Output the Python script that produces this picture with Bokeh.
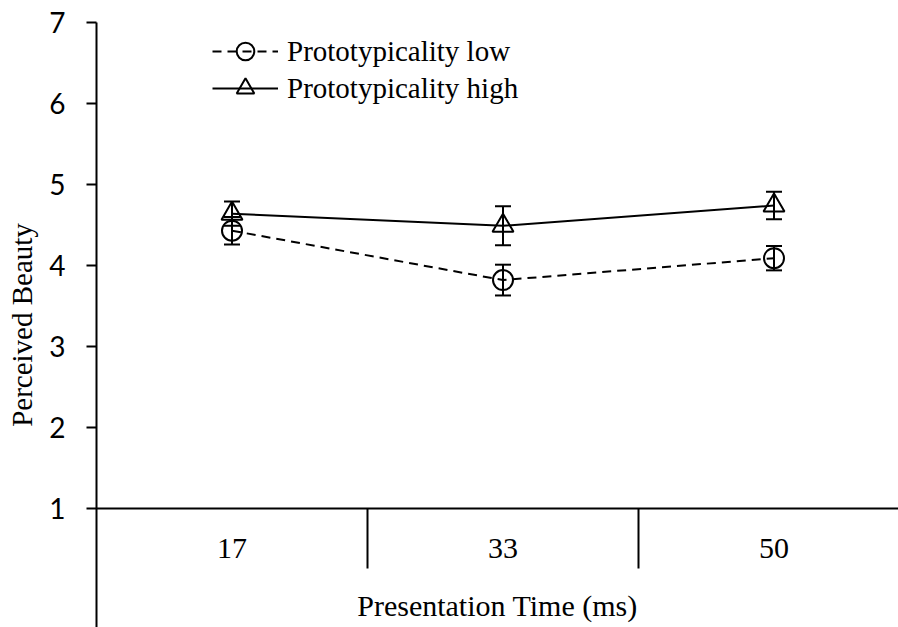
from bokeh.plotting import figure
from bokeh.models import (Range1d, LinearAxis, FixedTicker, Whisker, TeeHead,
                          ColumnDataSource, Legend, LegendItem)
from bokeh.embed import file_html
from bokeh.resources import INLINE

# ---- data ----
times = ["17", "33", "50"]
low_mean = [4.43, 3.82, 4.09]
low_err = [0.17, 0.19, 0.15]
high_mean = [4.64, 4.49, 4.74]
high_err = [0.15, 0.24, 0.17]
y_ticks = [1, 2, 3, 4, 5, 6, 7]
x_label = "Presentation Time (ms)"
y_label = "Perceived Beauty"
series_labels = ["Prototypicality low", "Prototypicality high"]

# category centres / boundaries on a linear scale
xpos = [i + 0.5 for i in range(len(times))]
bounds = [float(i) for i in range(1, len(times))]

W, H = 898, 627
left, top = 96, 22
frame_w = W - left
frame_h = H - top
px_per_unit_y = 81
px_per_cat = 271

p = figure(width=W, height=H, output_backend="svg", toolbar_location=None,
           x_range=Range1d(0, frame_w / px_per_cat),
           y_range=Range1d(7 - frame_h / px_per_unit_y, 7),
           x_axis_type=None, y_axis_type=None,
           min_border_left=left, min_border_top=top,
           min_border_right=0, min_border_bottom=0)
p.outline_line_color = None
p.background_fill_color = "white"
p.border_fill_color = "white"

# ---- y axis ----
yaxis = LinearAxis(ticker=FixedTicker(ticks=y_ticks, minor_ticks=[]),
                   axis_label=y_label)
yaxis.axis_line_width = 2
yaxis.axis_line_color = "black"
yaxis.major_tick_out = 10
yaxis.major_tick_in = 0
yaxis.major_tick_line_width = 2
yaxis.major_tick_line_color = "black"
yaxis.minor_tick_out = 0
yaxis.minor_tick_in = 0
yaxis.major_label_text_font = "Lato"
yaxis.major_label_text_font_size = "28px"
yaxis.major_label_text_color = "black"
yaxis.major_label_standoff = 21
yaxis.axis_label_text_font = "Liberation Serif"
yaxis.axis_label_text_font_size = "29px"
yaxis.axis_label_text_font_style = "normal"
yaxis.axis_label_text_color = "black"
yaxis.axis_label_standoff = 8
p.add_layout(yaxis, "left")

# ---- x axis at y = 1 ----
xaxis = LinearAxis(ticker=FixedTicker(ticks=xpos, minor_ticks=bounds),
                   major_label_overrides={x: t for x, t in zip(xpos, times)},
                   axis_label=x_label, fixed_location=1)
xaxis.axis_line_width = 2
xaxis.axis_line_color = "black"
xaxis.major_tick_out = 0
xaxis.major_tick_in = 0
xaxis.minor_tick_out = 60
xaxis.minor_tick_in = 0
xaxis.minor_tick_line_width = 2
xaxis.minor_tick_line_color = "black"
xaxis.major_label_text_font = "Liberation Serif"
xaxis.major_label_text_font_size = "30px"
xaxis.major_label_text_color = "black"
xaxis.major_label_standoff = -30
xaxis.axis_label_text_font = "Liberation Serif"
xaxis.axis_label_text_font_size = "30px"
xaxis.axis_label_text_font_style = "normal"
xaxis.axis_label_text_color = "black"
xaxis.axis_label_standoff = 28
p.add_layout(xaxis, "below")

# ---- data ----
low = ColumnDataSource(dict(x=xpos, y=low_mean,
                            lo=[m - e for m, e in zip(low_mean, low_err)],
                            hi=[m + e for m, e in zip(low_mean, low_err)]))
high = ColumnDataSource(dict(x=xpos, y=high_mean,
                             lo=[m - e for m, e in zip(high_mean, high_err)],
                             hi=[m + e for m, e in zip(high_mean, high_err)]))

l_low = p.line("x", "y", source=low, line_color="black", line_width=2,
               line_dash="9 6")
l_high = p.line("x", "y", source=high, line_color="black", line_width=2)

for src in (low, high):
    w = Whisker(base="x", upper="hi", lower="lo", source=src,
                line_color="black", line_width=2,
                upper_head=TeeHead(size=16, line_width=2, line_color="black"),
                lower_head=TeeHead(size=16, line_width=2, line_color="black"))
    p.add_layout(w)

s_low = p.scatter("x", "y", source=low, marker="circle", size=20,
                  fill_color=None, line_color="black", line_width=2)
s_high = p.scatter("x", "y", source=high, marker="triangle", size=21,
                   fill_color=None, line_color="black", line_width=2)


def make_legend(label, renderers, loc):
    lg = Legend(items=[LegendItem(label=label, renderers=renderers)],
                location=loc)
    lg.border_line_color = None
    lg.background_fill_alpha = 0
    lg.padding = 0
    lg.margin = 0
    lg.spacing = 0
    lg.glyph_width = 66
    lg.glyph_height = 44
    lg.label_height = 44
    lg.label_standoff = 9
    lg.label_text_font = "Liberation Serif"
    lg.label_text_font_size = "29px"
    lg.label_text_color = "black"
    return lg


p.add_layout(make_legend(series_labels[0], [l_low, s_low], (116, 554)))
p.add_layout(make_legend(series_labels[1], [l_high, s_high], (116, 517)))

open("out.html", "w").write(file_html(p, INLINE))
